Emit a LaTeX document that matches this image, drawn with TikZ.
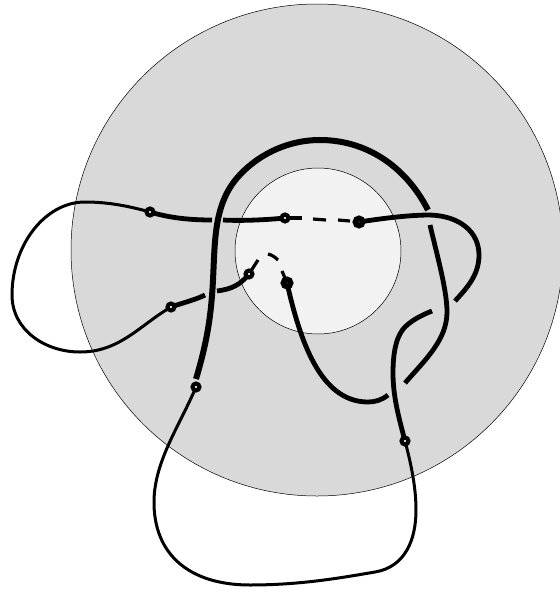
\documentclass[tikz,border=0pt]{standalone}
\begin{document}
\begin{tikzpicture}[
                x=1pt,y=-1pt,
                thinstrand/.style={line width=3pt},
                strand/.style={line width=4.8pt},
                boldstrand/.style={line width=6pt},
                dashpart/.style={line width=3.2pt},
                ring/.style={circle,draw=black,fill=white,line width=4.2pt,inner sep=0pt,minimum size=6.8pt},
                endring/.style={circle,draw=black,fill=white,line width=5.6pt,inner sep=0pt,minimum size=7.2pt}
            ]
            \useasboundingbox (0,0) rectangle (560,590);
            \clip (0,0) rectangle (560,590);

            % discs
            \fill[gray!30,draw=black,line width=0.5pt] (317,250) circle (246);
            \fill[gray!10,draw=black,line width=0.5pt] (318,251) circle (83);

            % marked points
            \coordinate (a) at (150,212);
            \coordinate (b) at (285,218);
            \coordinate (c) at (359,222);
            \coordinate (d) at (249,274);
            \coordinate (e) at (171,307);
            \coordinate (f) at (287,283);
            \coordinate (g) at (196,387);
            \coordinate (h) at (405,441);

            % outer loops
            \draw[thinstrand] (a) .. controls (125,205) and (105,202) .. (85,202)
                .. controls (45,202) and (12,245) .. (12,295)
                .. controls (12,330) and (45,352) .. (80,352)
                .. controls (120,352) and (140,325) .. (e);
            \draw[thinstrand] (g) .. controls (180,425) and (155,460) .. (154,500)
                .. controls (153,555) and (190,585) .. (250,585)
                .. controls (300,585) and (340,578) .. (375,572)
                .. controls (405,567) and (416,540) .. (416,510)
                .. controls (416,485) and (410,460) .. (h);

            % upper strand
            \draw[strand] (a) .. controls (170,218) and (190,220) .. (212,220);
            \draw[strand] (223,220) .. controls (240,221) and (265,220) .. (b);
            \draw[dashpart] (b) -- (302,218);
            \draw[dashpart] (313,219) -- (326,220);
            \draw[dashpart] (338,220) -- (350,221);
            \draw[strand] (c) .. controls (385,218) and (410,215) .. (430,215)
                .. controls (460,216) and (479,232) .. (479,255)
                .. controls (479,275) and (467,288) .. (455,301);

            % lower left strand
            \draw[strand] (e) .. controls (182,303) and (195,300) .. (205,295);
            \draw[strand] (217,291) .. controls (232,289) and (240,285) .. (d);
            \draw[dashpart] (d) -- (258,260);
            \draw[dashpart] (268,254) .. controls (272,255) and (275,257) .. (278,260);
            \draw[dashpart] (282,271) -- (f);

            % big arc
            \draw[boldstrand] (196,379) .. controls (206,345) and (211,320) .. (213,280)
                .. controls (215,240) and (214,205) .. (237,178)
                .. controls (255,157) and (285,140) .. (320,140)
                .. controls (365,140) and (405,165) .. (428,210);
            \draw[strand] (430,225) .. controls (437,255) and (447,290) .. (447,312)
                .. controls (447,340) and (425,360) .. (405,383);
            \draw[strand] (f) .. controls (300,340) and (320,402) .. (368,402)
                .. controls (375,402) and (382,400) .. (388,395);
            \draw[strand] (h) .. controls (398,415) and (393,395) .. (393,373)
                .. controls (393,350) and (397,335) .. (405,327)
                .. controls (412,320) and (422,315) .. (432,311);

            \node[ring] (na) at (a) {};
            \node[ring] (nb) at (b) {};
            \node[endring] (nc) at (c) {};
            \node[ring] (nd) at (d) {};
            \node[ring] (ne) at (e) {};
            \node[endring] (nf) at (f) {};
            \node[ring] (ng) at (g) {};
            \node[ring] (nh) at (h) {};
        \end{tikzpicture}
\end{document}
